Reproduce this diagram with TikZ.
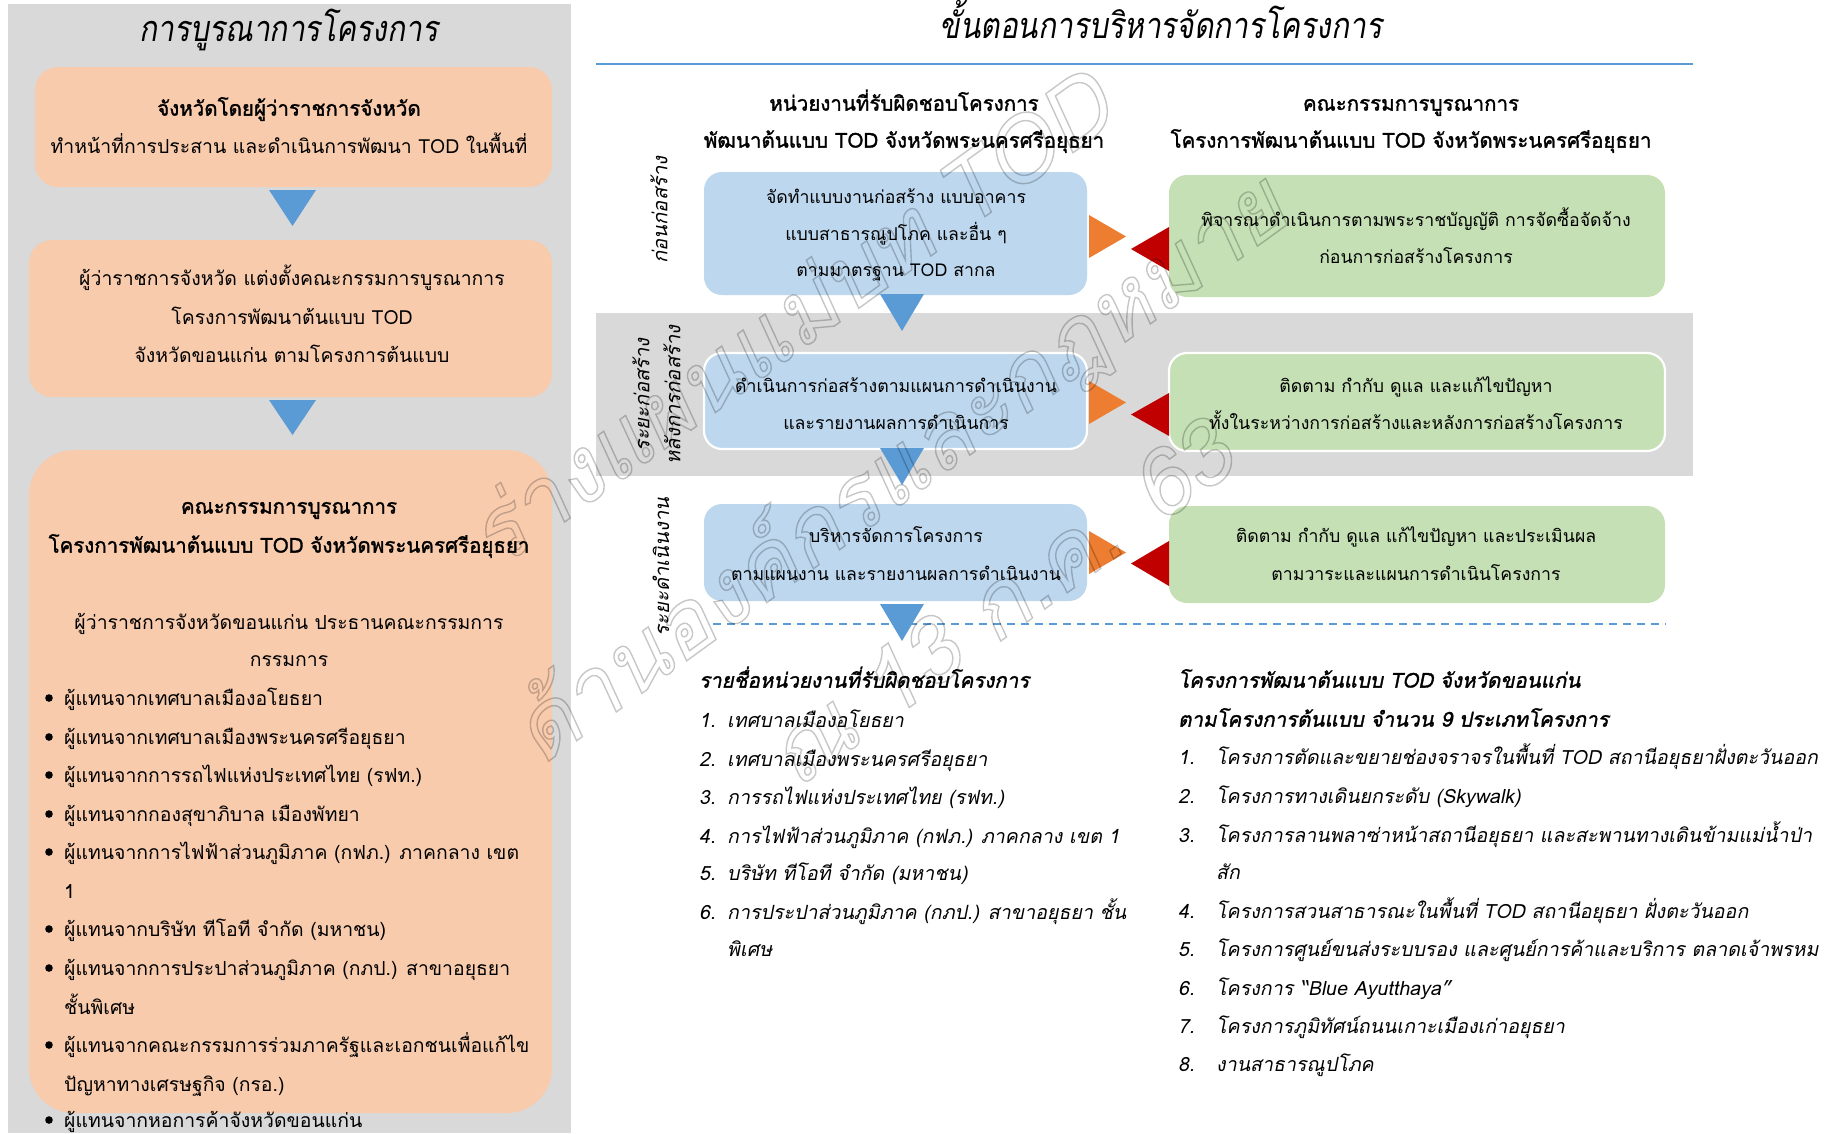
\documentclass[tikz,border=0pt]{standalone}
\usepackage{graphicx}
\usepackage{fontspec}
\setmainfont[Script=Thai,AutoFakeSlant=0.2,AutoFakeBold=1.5]{Loma}
\usetikzlibrary{calc}
\definecolor{panelgray}{HTML}{D9D9D9}
\definecolor{peach}{HTML}{F8CBAD}
\definecolor{lblue}{HTML}{BDD7EE}
\definecolor{lgreen}{HTML}{C5E0B4}
\definecolor{mblue}{HTML}{5B9BD5}
\definecolor{orng}{HTML}{ED7D31}
\definecolor{dred}{HTML}{C00000}
\newcommand{\wmtext}[1]{\special{pdf:literal direct 1 Tr 1.4 w}#1}
\begin{document}
\begin{tikzpicture}[x=1pt,y=-1pt,
  txt/.style={inner sep=0pt, anchor=mid, yshift=-5pt, font=\fontsize{19.4}{24}\selectfont},
  btxt/.style={txt, font=\fontsize{20.5}{24}\selectfont\bfseries},
  ctxt/.style={txt, font=\fontsize{17.7}{22}\selectfont},
  ltxt/.style={txt, anchor=mid west},
  itxt/.style={ltxt, font=\fontsize{19.6}{24}\selectfont\itshape},
  bitxt/.style={ltxt, font=\fontsize{20.5}{24}\selectfont\bfseries\itshape},
  ttl/.style={inner sep=0pt, anchor=mid, yshift=-10pt, font=\fontsize{36}{40}\selectfont\itshape},
  peachbox/.style={fill=peach, rounded corners=23pt, inner sep=0pt},
  bluebox/.style={fill=lblue, rounded corners=18pt, inner sep=0pt},
  greenbox/.style={fill=lgreen, rounded corners=18pt, inner sep=0pt},
  framed/.style={draw=white, line width=2.2pt},
  dtri/.style={fill=mblue},
  otri/.style={fill=orng},
  rtri/.style={fill=dred},
  wmark/.style={inner sep=0pt, anchor=center, text=black, opacity=0.22, font=\fontsize{90}{100}\selectfont\itshape, rotate=36},
  vlab/.style={inner sep=0pt, anchor=center, rotate=90, font=\fontsize{20.3}{24}\selectfont\itshape}
]
\useasboundingbox (0,0) rectangle (1833,1133);
\fill[white] (0,0) rectangle (1833,1133);

% ---------------- left panel ----------------
\fill[panelgray] (8,4) rectangle (571,1133);
\node[ttl] (lt) at (289,29) {\scalebox{0.83}[1]{การบูรณาการโครงการ}};

\node[peachbox, minimum width=517pt, minimum height=120pt] (p1) at (293.5,127) {};
\node[btxt] (p1a) at (289,108) {จังหวัดโดยผู้ว่าราชการจังหวัด};
\node[txt] (p1b) at (289,146) {ทำหน้าที่การประสาน และดำเนินการพัฒนา TOD ในพื้นที่};

\fill[dtri] (269,190) -- (316,190) -- (292.5,226) -- cycle;

\node[peachbox, minimum width=523pt, minimum height=157pt] (p2) at (290.5,318.5) {};
\node[txt] (p2a) at (292,278) {ผู้ว่าราชการจังหวัด แต่งตั้งคณะกรรมการบูรณาการ};
\node[txt] (p2b) at (292,317) {โครงการพัฒนาต้นแบบ TOD};
\node[txt] (p2c) at (292,355) {จังหวัดขอนแก่น ตามโครงการต้นแบบ};

\fill[dtri] (269,400) -- (316,400) -- (292.5,435) -- cycle;

\node[peachbox, rounded corners=45pt, minimum width=523pt, minimum height=663pt] (p3) at (290.5,781.5) {};
\node[btxt] (p3a) at (289,506) {คณะกรรมการบูรณาการ};
\node[btxt] (p3b) at (289,545) {โครงการพัฒนาต้นแบบ TOD จังหวัดพระนครศรีอยุธยา};
\node[txt] (p3c) at (289,622) {ผู้ว่าราชการจังหวัดขอนแก่น ประธานคณะกรรมการ};
\node[txt] (p3d) at (289,659) {กรรมการ};

\foreach \yy in {698,737,775,814,852,929,968,1045,1120}{\fill (49,\yy) circle (3.8pt);}
\node[ltxt] (m1) at (64,698) {ผู้แทนจากเทศบาลเมืองอโยธยา};
\node[ltxt] (m2) at (64,737) {ผู้แทนจากเทศบาลเมืองพระนครศรีอยุธยา};
\node[ltxt] (m3) at (64,775) {ผู้แทนจากการรถไฟแห่งประเทศไทย (รฟท.)};
\node[ltxt] (m4) at (64,814) {ผู้แทนจากกองสุขาภิบาล เมืองพัทยา};
\node[ltxt] (m5) at (64,852) {ผู้แทนจากการไฟฟ้าส่วนภูมิภาค (กฟภ.) ภาคกลาง เขต};
\node[ltxt] (m5b) at (64,891) {1};
\node[ltxt] (m6) at (64,929) {ผู้แทนจากบริษัท ทีโอที จำกัด (มหาชน)};
\node[ltxt] (m7) at (64,968) {ผู้แทนจากการประปาส่วนภูมิภาค (กภป.) สาขาอยุธยา};
\node[ltxt] (m7b) at (64,1007) {ชั้นพิเศษ};
\node[ltxt] (m8) at (64,1045) {ผู้แทนจากคณะกรรมการร่วมภาครัฐและเอกชนเพื่อแก้ไข};
\node[ltxt] (m8b) at (64,1084) {ปัญหาทางเศรษฐกิจ (กรอ.)};
\node[ltxt] (m9) at (64,1120) {ผู้แทนจากหอการค้าจังหวัดขอนแก่น};

% ---------------- right part ----------------
\node[ttl] (rt) at (1161,26) {\scalebox{0.83}[1]{ขั้นตอนการบริหารจัดการโครงการ}};
\draw[mblue, line width=1.3pt] (596,64) -- (1693,64);
\fill[panelgray] (596,313) rectangle (1693,476);

\node[btxt] (h1a) at (904,103) {หน่วยงานที่รับผิดชอบโครงการ};
\node[btxt] (h1b) at (904,140) {พัฒนาต้นแบบ TOD จังหวัดพระนครศรีอยุธยา};
\node[btxt] (h2a) at (1411,103) {คณะกรรมการบูรณาการ};
\node[btxt] (h2b) at (1411,140) {โครงการพัฒนาต้นแบบ TOD จังหวัดพระนครศรีอยุธยา};

\node[vlab] (v1) at (659,210) {ก่อนก่อสร้าง};
\node[vlab] (v2a) at (641,395) {ระยะก่อสร้าง};
\node[vlab] (v2b) at (672,395) {หลังการก่อสร้าง};
\node[vlab] (v3) at (661,567) {ระยะดำเนินงาน};

% blue column
\node[bluebox, minimum width=383pt, minimum height=123pt] (b1) at (895.5,233.5) {};
\node[ctxt] (b1a) at (896,196) {จัดทำแบบงานก่อสร้าง แบบอาคาร};
\node[ctxt] (b1b) at (896,233) {แบบสาธารณูปโภค และอื่น ๆ};
\node[ctxt] (b1c) at (896,269) {ตามมาตรฐาน TOD สากล};
\fill[dtri] (880,294) -- (924,294) -- (902,331) -- cycle;

\node[bluebox, framed, minimum width=383pt, minimum height=96pt] (b2) at (895.5,401) {};
\node[ctxt] (b2a) at (896,385) {ดำเนินการก่อสร้างตามแผนการดำเนินงาน};
\node[ctxt] (b2b) at (896,422) {และรายงานผลการดำเนินการ};
\fill[dtri] (880,448) -- (924,448) -- (902,485) -- cycle;

\node[bluebox, minimum width=383pt, minimum height=97pt] (b3) at (895.5,552.5) {};
\node[ctxt] (b3a) at (896,535) {บริหารจัดการโครงการ};
\node[ctxt] (b3b) at (896,573) {ตามแผนงาน และรายงานผลการดำเนินงาน};

% dashed separator
\coordinate (dl) at (713,624);
\coordinate (dr) at (1666,624);
\draw[mblue, line width=1.6pt, dash pattern=on 8pt off 6pt] (dl) -- (dr);
\fill[dtri] (880,604) -- (924,604) -- (902,641) -- cycle;

% green column
\node[greenbox, minimum width=496pt, minimum height=122pt] (g1) at (1417,236) {};
\node[ctxt] (g1a) at (1416,219) {พิจารณาดำเนินการตามพระราชบัญญัติ การจัดซื้อจัดจ้าง};
\node[ctxt] (g1b) at (1416,256) {ก่อนการก่อสร้างโครงการ};

\node[greenbox, framed, minimum width=496pt, minimum height=98pt] (g2) at (1417,402) {};
\node[ctxt] (g2a) at (1416,385) {ติดตาม กำกับ ดูแล และแก้ไขปัญหา};
\node[ctxt] (g2b) at (1416,422) {ทั้งในระหว่างการก่อสร้างและหลังการก่อสร้างโครงการ};

\node[greenbox, minimum width=496pt, minimum height=97pt] (g3) at (1417,554.5) {};
\node[ctxt] (g3a) at (1416,535) {ติดตาม กำกับ ดูแล แก้ไขปัญหา และประเมินผล};
\node[ctxt] (g3b) at (1416,573) {ตามวาระและแผนการดำเนินโครงการ};

% orange / red arrowheads between columns
\fill[otri] (1089,215) -- (1126,236.5) -- (1089,258) -- cycle;
\fill[rtri] (1169,227) -- (1131,249) -- (1169,271) -- cycle;
\fill[otri] (1089,381) -- (1126,402.5) -- (1089,424) -- cycle;
\fill[rtri] (1169,393) -- (1131,414.5) -- (1169,436) -- cycle;
\fill[otri] (1089,531) -- (1126,552.5) -- (1089,574) -- cycle;
\fill[rtri] (1169,541) -- (1131,563.5) -- (1169,586) -- cycle;

% bottom-left list
\node[bitxt] (l0) at (699,680) {รายชื่อหน่วยงานที่รับผิดชอบโครงการ};
\node[itxt] (l1n) at (699,720) {1.};  \node[itxt] (l1) at (727,720) {เทศบาลเมืองอโยธยา};
\node[itxt] (l2n) at (699,759) {2.};  \node[itxt] (l2) at (727,759) {เทศบาลเมืองพระนครศรีอยุธยา};
\node[itxt] (l3n) at (699,797) {3.};  \node[itxt] (l3) at (727,797) {การรถไฟแห่งประเทศไทย (รฟท.)};
\node[itxt] (l4n) at (699,836) {4.};  \node[itxt] (l4) at (727,836) {การไฟฟ้าส่วนภูมิภาค (กฟภ.) ภาคกลาง เขต 1};
\node[itxt] (l5n) at (699,873) {5.};  \node[itxt] (l5) at (727,873) {บริษัท ทีโอที จำกัด (มหาชน)};
\node[itxt] (l6n) at (699,912) {6.};  \node[itxt] (l6) at (727,912) {การประปาส่วนภูมิภาค (กภป.) สาขาอยุธยา ชั้น};
\node[itxt] (l6b) at (727,949) {พิเศษ};

% bottom-right list
\node[bitxt] (r0a) at (1178,680) {โครงการพัฒนาต้นแบบ TOD จังหวัดขอนแก่น};
\node[bitxt] (r0b) at (1178,719) {ตามโครงการต้นแบบ จำนวน 9 ประเภทโครงการ};
\node[itxt] (r1n) at (1178,757) {1.}; \node[itxt] (r1) at (1216,757) {โครงการตัดและขยายช่องจราจรในพื้นที่ TOD สถานีอยุธยาฝั่งตะวันออก};
\node[itxt] (r2n) at (1178,796) {2.}; \node[itxt] (r2) at (1216,796) {โครงการทางเดินยกระดับ (Skywalk)};
\node[itxt] (r3n) at (1178,835) {3.}; \node[itxt] (r3) at (1216,835) {โครงการลานพลาซ่าหน้าสถานีอยุธยา และสะพานทางเดินข้ามแม่น้ำป่า};
\node[itxt] (r3b) at (1216,872) {สัก};
\node[itxt] (r4n) at (1178,911) {4.}; \node[itxt] (r4) at (1216,911) {โครงการสวนสาธารณะในพื้นที่ TOD สถานีอยุธยา ฝั่งตะวันออก};
\node[itxt] (r5n) at (1178,949) {5.}; \node[itxt] (r5) at (1216,949) {โครงการศูนย์ขนส่งระบบรอง และศูนย์การค้าและบริการ ตลาดเจ้าพรหม};
\node[itxt] (r6n) at (1178,988) {6.}; \node[itxt] (r6) at (1216,988) {โครงการ “Blue Ayutthaya”};
\node[itxt] (r7n) at (1178,1026) {7.}; \node[itxt] (r7) at (1216,1026) {โครงการภูมิทัศน์ถนนเกาะเมืองเก่าอยุธยา};
\node[itxt] (r8n) at (1178,1064) {8.}; \node[itxt] (r8) at (1216,1064) {งานสาธารณูปโภค};

% watermark
\node[wmark] (w1) at (788,317) {\wmtext{ร่างแผนแม่บท TOD}};
\node[wmark] (w2) at (899,469) {\wmtext{ด้านองค์กรและกฎหมาย}};
\node[wmark] (w3) at (1000,602) {\wmtext{ณ 13 ก.ค. 63}};
\end{tikzpicture}
\end{document}
